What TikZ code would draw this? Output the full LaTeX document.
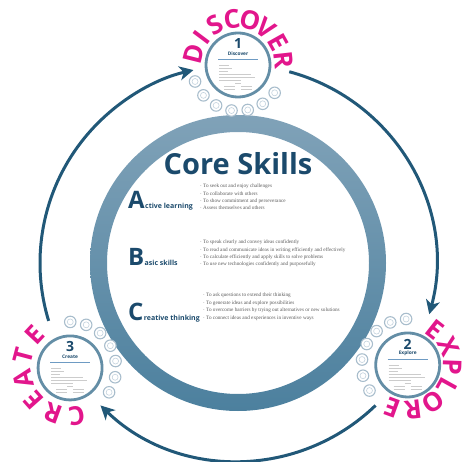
\documentclass[tikz,border=0pt]{standalone}
\usepackage{fontspec}
\setmainfont{Liberation Serif}
\setsansfont{Open Sans}
\usetikzlibrary{calc,positioning,arrows.meta}

\definecolor{navy}{RGB}{27,74,108}
\definecolor{arrowblue}{RGB}{33,88,120}
\definecolor{ringtop}{RGB}{128,162,184}
\definecolor{ringbot}{RGB}{76,128,158}
\definecolor{stageblue}{RGB}{100,142,166}
\definecolor{bubbleline}{RGB}{168,189,204}
\definecolor{iconline}{RGB}{196,211,222}
\definecolor{pinkletter}{RGB}{226,22,140}
\definecolor{bullettext}{RGB}{90,90,90}
\definecolor{subblue}{RGB}{110,155,195}

\begin{document}
\begin{tikzpicture}[x=1pt, y=1pt]

    % Define styles
    \tikzstyle{stage} = [circle, draw=stageblue, line width=2.8pt, fill=white,
        minimum size=64pt, inner sep=0pt]
    \tikzstyle{bubble} = [circle, draw=bubbleline, line width=1.1pt, fill=white,
        minimum size=11.5pt, inner sep=0pt,
        path picture={\draw[iconline, line width=0.6pt]
            (path picture bounding box.center) circle (3);}]
    \tikzstyle{letter} = [font=\sffamily\bfseries\fontsize{26}{26}\selectfont,
        text=pinkletter, inner sep=0pt]
    \tikzstyle{stagenum} = [font=\sffamily\bfseries\fontsize{14}{14}\selectfont,
        text=navy, inner sep=0pt]
    \tikzstyle{stagename} = [font=\sffamily\bfseries\fontsize{4.8}{4.8}\selectfont,
        text=navy, inner sep=0pt]
    \tikzstyle{subline} = [draw=subblue, line width=0.9pt]
    \tikzstyle{txtline} = [draw=gray!40, line width=0.8pt]
    \tikzstyle{bigletter} = [font=\sffamily\bfseries\fontsize{24}{24}\selectfont,
        text=navy, inner sep=0pt, anchor=base west]
    \tikzstyle{skill} = [font=\sffamily\bfseries\fontsize{7}{7}\selectfont,
        text=navy, inner sep=0pt, anchor=base west]
    \tikzstyle{bullets} = [font=\fontsize{5.2}{7.4}\selectfont, text=bullettext,
        align=left, inner sep=0pt, anchor=base west]
    \tikzstyle{line} = [draw=arrowblue, line width=3pt,
        -{Stealth[length=14pt, width=14pt, inset=4pt]}]

    \useasboundingbox (0,0) rectangle (463,461);

    % Core ring
    \node [circle, minimum size=296pt, inner sep=0pt] (core) at (238,198) {};
    \shade [top color=ringtop, bottom color=ringbot, even odd rule]
        (core) circle (148) (core) circle (131);

    % Place stages
    \node [stage] (discover) at ($(core)+(90:198)$) {};
    \node [stage] (explore) at ($(core)+(-31:198)$) {};
    \node [stage] (create) at ($(core)+(212:198)$) {};

    \node [stagenum] at ([yshift=21]discover.center) {1};
    \node [stagename] at ([yshift=11.5]discover.center) {Discover};
    \node [stagenum] at ([yshift=21]explore.center) {2};
    \node [stagename] at ([yshift=11.5]explore.center) {Explore};
    \node [stagenum] at ([yshift=21]create.center) {3};
    \node [stagename] at ([yshift=11.5]create.center) {Create};

    \foreach \s in {discover, explore, create} {
        \draw [subline] ([shift={(-20,5.5)}]\s.center) -- ++(40,0);
        \foreach \dy/\len in {0/10, 3/13, 6/9, 9/32, 12/36, 15/22}
            \draw [txtline] ([shift={(-19,-\dy)}]\s.center) -- ++(\len,0);
        \draw [txtline] ([shift={(-3,-18.5)}]\s.center) -- ++(6,0);
        \foreach \dy in {21.5, 24.5} {
            \draw [txtline] ([shift={(-14,-\dy)}]\s.center) -- ++(11,0);
            \draw [txtline] ([shift={(3,-\dy)}]\s.center) -- ++(11,0);
        }
    }

    % Bubbles
    \foreach \a in {0,...,6} {
        \node [bubble] (d-b\a) at ($(discover)+(201+20.3*\a:46)$) {};
        \node [bubble] (e-b\a) at ($(explore)+(92+20.3*\a:46)$) {};
        \node [bubble] (c-b\a) at ($(create)+(-32+20.3*\a:46)$) {};
    }

    % Stage words
    \foreach \l [count=\i from 0] in {D,I,S,C,O,V,E,R} {
        \pgfmathsetmacro{\a}{166-22.8*\i}
        \node [letter, rotate=\a-90] at ($(discover)+(\a:46)$) {\l};
    }
    \foreach \l [count=\i from 0] in {E,X,P,L,O,R,E} {
        \pgfmathsetmacro{\a}{52-27*\i}
        \node [letter, rotate=\a-90] at ($(explore)+(\a:45)$) {\l};
    }
    \foreach \l [count=\i from 0] in {C,R,E,A,T,E} {
        \pgfmathsetmacro{\a}{-82-28.2*\i}
        \node [letter, rotate=\a-90] at ($(create)+(\a:48)$) {\l};
    }

    % Core text
    \node [font=\sffamily\bfseries\fontsize{29}{29}\selectfont, text=navy,
        anchor=base] (title) at (238,286) {Core Skills};

    \node [bigletter] (A) at (128,252) {A};
    \node [skill] (Alab) at (A.base east) {ctive learning};
    \node [bullets] (Alist) at (200,251)
        {· To seek out and enjoy challenges\\
         · To collaborate with others\\
         · To show commitment and perseverance\\
         · Assess themselves and others};

    \node [bigletter] (B) at (128,195) {B};
    \node [skill] (Blab) at (B.base east) {asic skills};
    \node [bullets] (Blist) at (200,195)
        {· To speak clearly and convey ideas confidently\\
         · To read and communicate ideas in writing efficiently and effectively\\
         · To calculate efficiently and apply skills to solve problems\\
         · To use new technologies confidently and purposefully};

    \node [bigletter] (C) at (128,141) {C};
    \node [skill] (Clab) at (C.base east) {reative thinking};
    \node [bullets] (Clist) at (203,142)
        {· To ask questions to extend their thinking\\
         · To generate ideas and explore possibilities\\
         · To overcome barriers by trying out alternatives or new solutions\\
         · To connect ideas and experiences in inventive ways};

    % Draw arrows
    \coordinate (d-out) at ($(core)+(75:198)$);
    \coordinate (e-out) at ($(core)+(-46:198)$);
    \coordinate (c-out) at ($(core)+(197:198)$);
    \path [line] (d-out) arc (75:-15:198);
    \path [line] (e-out) arc (-46:-134:198);
    \path [line] (c-out) arc (197:103:198);

\end{tikzpicture}
\end{document}
